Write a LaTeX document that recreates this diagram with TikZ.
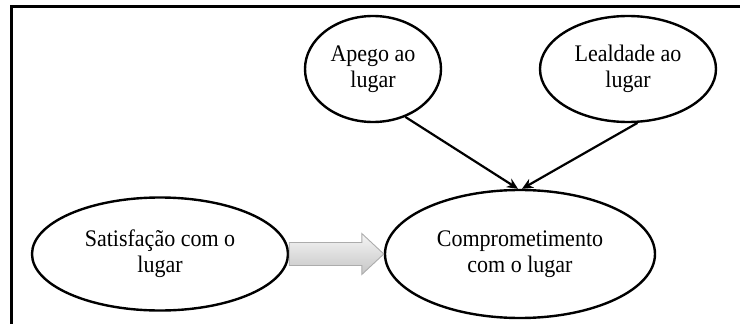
\documentclass[tikz,border=0pt]{standalone}
\usepackage{fontspec}
\setmainfont{Liberation Serif}
\usetikzlibrary{shapes.geometric,arrows.meta,calc}
\newcommand{\tl}[1]{\scalebox{1}[1.08]{#1}}
\begin{document}
\begin{tikzpicture}[x=1pt,y=-1pt,
  oval/.style={ellipse,draw=black,line width=2.4pt,inner sep=0pt,align=center,
    font=\fontsize{22}{26}\selectfont},
  link/.style={line width=2.2pt,-{Stealth[length=11pt,width=10pt]}},
  blockarrow/.style={draw=gray!65,line width=0.9pt,top color=gray!8,bottom color=gray!45}]
\useasboundingbox (0,0) rectangle (740,324);
% open frame: top and left edges
\draw[line width=2.2pt] (11.5,324) -- (11.5,6.5) -- (740,6.5);
% constructs
\node[oval,minimum width=136pt,minimum height=106pt] (apego) at (373,69)
  {\tl{Apego ao}\\\tl{lugar}};
\node[oval,minimum width=176pt,minimum height=106pt] (leal) at (628,69)
  {\tl{Lealdade ao}\\\tl{lugar}};
\node[oval,minimum width=256pt,minimum height=113pt] (sat) at (160,254)
  {\tl{Satisfação com o}\\\tl{lugar}};
\node[oval,minimum width=270pt,minimum height=128pt] (comp) at (520,254)
  {\tl{Comprometimento}\\\tl{com o lugar}};
% influence arrows
\draw[link] (apego.-56) -- ($(comp.north)+(-2,0)$);
\draw[link] (leal.-80) -- ($(comp.north)+(2,0)$);
% block arrow from satisfaction to commitment
\path[blockarrow] ($(sat.east)+(0,-11.5)$) -- ($(comp.west)+(-22,-11.5)$)
  -- ($(comp.west)+(-22,-20.5)$) -- (comp.west) -- ($(comp.west)+(-22,20.5)$)
  -- ($(comp.west)+(-22,11.5)$) -- ($(sat.east)+(0,11.5)$) -- cycle;
\end{tikzpicture}
\end{document}
